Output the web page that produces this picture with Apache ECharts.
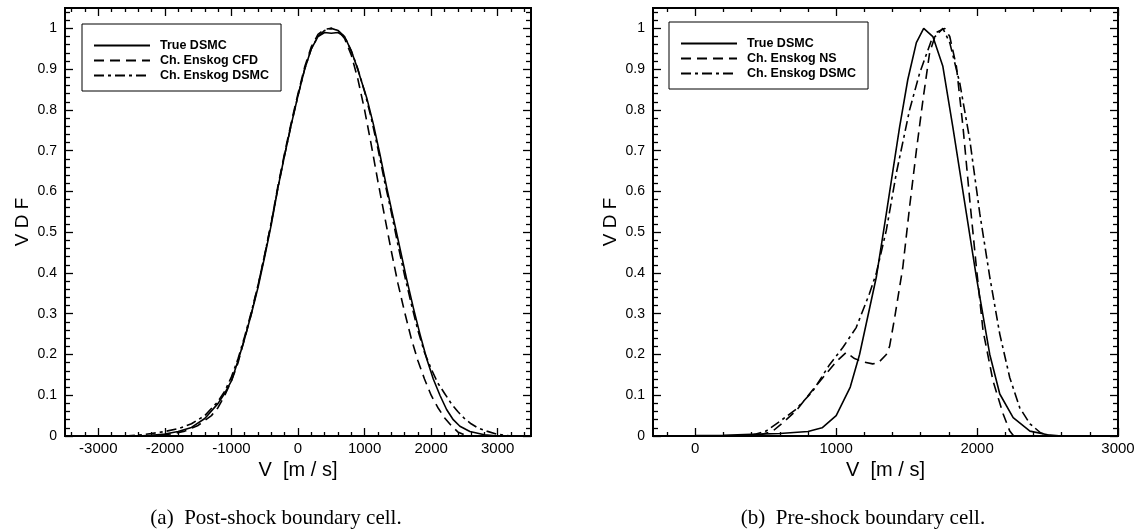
<!DOCTYPE html>
<html><head><meta charset="utf-8">
<script src="https://cdn.jsdelivr.net/npm/echarts@6/dist/echarts.min.js"></script>
<style>html,body{margin:0;padding:0;background:#fff}#c{width:1138px;height:531px}</style>
</head><body><div id="c"></div>
<script>
// ---------- data ----------
// Panel (a): post-shock boundary cell
const aTrueV  = [-2400,-2200,-2000,-1800,-1600,-1400,-1200,-1100,-1000,-900,-800,-700,-600,-500,-400,-300,-200,-100,0,100,200,300,400,500,600,700,800,882,1032,1132,1232,1332,1432,1532,1632,1732,1832,1932,2032,2132,2232,2332,2432,2582,2800,3000];
const aTrueY  = [0,0.002,0.005,0.011,0.021,0.043,0.08,0.105,0.135,0.185,0.24,0.3,0.365,0.44,0.52,0.61,0.69,0.765,0.835,0.9,0.95,0.98,0.99,0.988,0.99,0.98,0.945,0.907,0.83,0.765,0.69,0.61,0.535,0.46,0.385,0.315,0.25,0.19,0.14,0.1,0.065,0.04,0.024,0.011,0.003,0];
const aCfdV   = [-2300,-2100,-1900,-1700,-1500,-1300,-1200,-1100,-1000,-900,-800,-700,-600,-500,-400,-300,-200,-100,0,100,200,300,400,500,600,700,800,900,1000,1100,1200,1300,1400,1500,1600,1700,1800,1900,2000,2100,2200,2300,2400,2500,2600];
const aCfdY   = [0,0.002,0.005,0.012,0.026,0.05,0.07,0.1,0.135,0.18,0.24,0.3,0.37,0.445,0.525,0.615,0.695,0.77,0.84,0.905,0.955,0.985,0.998,1.0,0.995,0.975,0.935,0.875,0.8,0.715,0.625,0.54,0.455,0.375,0.305,0.24,0.185,0.14,0.1,0.07,0.045,0.026,0.01,0.003,0];
const aDsmcV  = [-2600,-2400,-2200,-2000,-1800,-1600,-1400,-1200,-1100,-1000,-900,-800,-700,-600,-500,-400,-300,-200,-100,0,100,200,300,400,500,600,700,800,900,1000,1100,1200,1300,1400,1500,1600,1700,1800,1900,2000,2100,2200,2300,2400,2500,2600,2700,2835,3000,3200];
const aDsmcY  = [0,0.002,0.006,0.011,0.018,0.03,0.05,0.085,0.11,0.145,0.19,0.245,0.305,0.37,0.445,0.525,0.61,0.69,0.765,0.835,0.9,0.95,0.98,0.995,1.0,0.995,0.98,0.945,0.9,0.845,0.78,0.705,0.625,0.55,0.47,0.395,0.325,0.26,0.205,0.165,0.13,0.105,0.08,0.06,0.043,0.03,0.02,0.012,0.004,0];
// Panel (b): pre-shock boundary cell
const bTrueV  = [-300,0,200,400,600,800,900,1000,1100,1166,1285,1356,1450,1508,1569,1621,1686,1757,1828,1924,1995,2090,2161,2256,2375,2500,2600,3000];
const bTrueY  = [0,0.001,0.002,0.004,0.006,0.011,0.02,0.05,0.12,0.2,0.39,0.546,0.758,0.874,0.965,1.0,0.98,0.907,0.758,0.546,0.39,0.2,0.103,0.045,0.012,0.003,0,0];
const bNsV    = [450,550,630,716,810,905,1000,1071,1130,1190,1259,1300,1356,1379,1415,1473,1521,1569,1616,1663,1711,1770,1806,1853,1900,1948,1995,2042,2113,2185,2232,2260];
const bNsY    = [0.002,0.012,0.035,0.062,0.103,0.143,0.182,0.205,0.19,0.182,0.177,0.18,0.2,0.22,0.29,0.414,0.562,0.70,0.825,0.94,0.99,1.0,0.98,0.907,0.758,0.579,0.414,0.259,0.135,0.054,0.012,0];
const bDsmcV  = [400,431,502,597,716,834,953,1047,1142,1237,1285,1356,1427,1521,1592,1675,1757,1806,1877,1948,2019,2090,2161,2232,2303,2375,2450,2520];
const bDsmcY  = [0.002,0.005,0.012,0.035,0.066,0.11,0.175,0.217,0.266,0.35,0.4,0.505,0.645,0.8,0.89,0.97,1.0,0.965,0.866,0.727,0.546,0.39,0.25,0.143,0.069,0.03,0.008,0];
// tick labels
const aXTicks = [-3000,-2000,-1000,0,1000,2000,3000];
const bXTicks = [0,1000,2000,3000];
const yTicks  = [0,0.1,0.2,0.3,0.4,0.5,0.6,0.7,0.8,0.9,1];
const aXRange = [-3500,3500];
const bXRange = [-300,3000];
const yRange  = [0,1.05];
const namesA = ['True DSMC','Ch. Enskog CFD','Ch. Enskog DSMC'];
const namesB = ['True DSMC','Ch. Enskog NS','Ch. Enskog DSMC'];
// ---------- helpers ----------
function minorOf(range, step, majors){
  const out=[]; const s=Math.ceil(range[0]/step)*step;
  for(let v=s; v<=range[1]+1e-9; v+=step){ const r=Math.round(v*1000)/1000; if(!majors.some(m=>Math.abs(m-r)<1e-9) && r>range[0] && r<range[1]) out.push(r); }
  return out;
}
const pairs=(xs,ys)=>xs.map((x,i)=>[x,ys[i]]);
const FONT='Liberation Sans';
const fmt=v=>String(Math.round(v*100)/100);
function xAx(grid, range, vals, pos, len, label, name){
  return {type:'value', gridIndex:grid, min:range[0], max:range[1], position:pos,
    axisLine:{show:false, onZero:false}, splitLine:{show:false},
    axisTick:{show:true, inside:true, length:len, customValues:vals, lineStyle:{color:'#000',width:1.3}},
    axisLabel:{show:label, customValues:vals, formatter:fmt, color:'#000', fontFamily:FONT, fontSize:15, margin:5},
    name:name||'', nameLocation:'middle', nameGap:20, nameTextStyle:{color:'#000',fontFamily:FONT,fontSize:20}};
}
function yAx(grid, vals, pos, len, label, name){
  return {type:'value', gridIndex:grid, min:yRange[0], max:yRange[1], position:pos,
    axisLine:{show:false, onZero:false}, splitLine:{show:false},
    axisTick:{show:true, inside:true, length:len, customValues:vals, lineStyle:{color:'#000',width:1.3}},
    axisLabel:{show:label, customValues:vals, formatter:fmt, color:'#000', fontFamily:FONT, fontSize:14, margin:8},
    name:name||'', nameLocation:'middle', nameGap:33, nameTextStyle:{color:'#000',fontFamily:FONT,fontSize:19}};
}
const yMinor = minorOf(yRange,0.02,yTicks);
const aXMinor = minorOf(aXRange,200,aXTicks);
const bXMinor = minorOf(bXRange,200,bXTicks);
const xAxes=[
  xAx(0,aXRange,aXTicks,'bottom',8,true,'V  [m / s]'),
  xAx(0,aXRange,aXMinor,'bottom',4,false),
  xAx(0,aXRange,aXTicks,'top',8,false),
  xAx(0,aXRange,aXMinor,'top',4,false),
  xAx(1,bXRange,bXTicks,'bottom',8,true,'V  [m / s]'),
  xAx(1,bXRange,bXMinor,'bottom',4,false),
  xAx(1,bXRange,bXTicks,'top',8,false),
  xAx(1,bXRange,bXMinor,'top',4,false)
];
const yAxes=[
  yAx(0,yTicks,'left',8,true,'V D F'),
  yAx(0,yMinor,'left',5,false),
  yAx(0,yTicks,'right',8,false),
  yAx(0,yMinor,'right',5,false),
  yAx(1,yTicks,'left',8,true,'V D F'),
  yAx(1,yMinor,'left',5,false),
  yAx(1,yTicks,'right',8,false),
  yAx(1,yMinor,'right',5,false)
];
const SOLID='solid', DASH=[10,6], DASHDOT=[10,4,3,4];
function ser(name,xi,yi,data,type){
  return {type:'line', name, xAxisIndex:xi, yAxisIndex:yi, data, symbol:'none', showSymbol:false,
    smooth:false, lineStyle:{color:'#000', width:1.6, type:type}, itemStyle:{color:'#000'}, z:5};
}
const series=[
  ser(namesA[0],0,0,pairs(aTrueV,aTrueY),SOLID),
  ser(namesA[1],0,0,pairs(aCfdV,aCfdY),DASH),
  ser(namesA[2],0,0,pairs(aDsmcV,aDsmcY),DASHDOT),
  ser(namesB[0],4,4,pairs(bTrueV,bTrueY),SOLID),
  ser(namesB[1],4,4,pairs(bNsV,bNsY),DASH),
  ser(namesB[2],4,4,pairs(bDsmcV,bDsmcY),DASHDOT)
];
function legend(names,left,top){
  return {data:names, orient:'vertical', left, top, itemWidth:56, itemHeight:13, itemGap:2,
    padding:[15,12,9,11], backgroundColor:'#fff', borderColor:'#000', borderWidth:1, selectedMode:false,
    itemStyle:{opacity:0},
    textStyle:{color:'#000', fontFamily:FONT, fontWeight:'bold', fontSize:12.5, padding:[0,0,0,5]}};
}
const option={
  animation:false,
  grid:[
    {left:65, top:8, width:466, height:428, show:true, borderColor:'#000', borderWidth:2, backgroundColor:'transparent'},
    {left:653, top:8, width:465, height:428, show:true, borderColor:'#000', borderWidth:2, backgroundColor:'transparent'}
  ],
  xAxis:xAxes, yAxis:yAxes,
  legend:[legend(namesA,82,24), legend(namesB,669,22)],
  series,
  graphic:[
    {type:'text', x:276, y:518, style:{text:'(a)  Post-shock boundary cell.', font:'21px "Liberation Serif"', fill:'#000', align:'center', verticalAlign:'middle'}},
    {type:'text', x:863, y:518, style:{text:'(b)  Pre-shock boundary cell.', font:'21px "Liberation Serif"', fill:'#000', align:'center', verticalAlign:'middle'}}
  ]
};
echarts.init(document.getElementById('c'),null,{renderer:'canvas'}).setOption(option);
</script></body></html>
